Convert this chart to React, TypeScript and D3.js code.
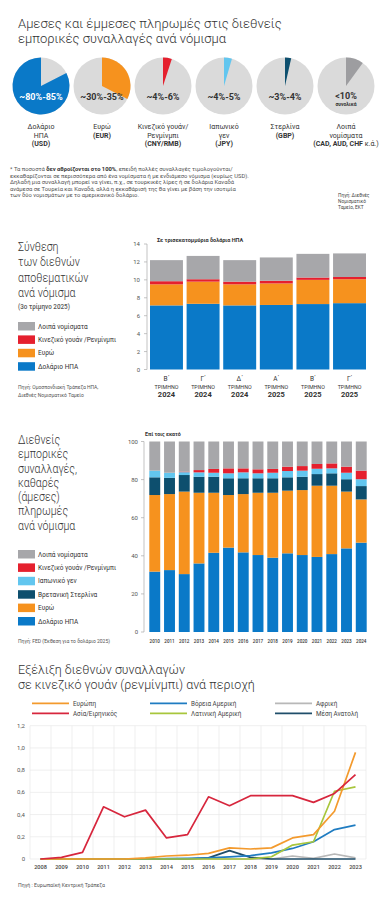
import React from 'react';
import * as d3 from 'd3';

// ---------- Section 1: pies ----------
const pieCodes = ['USD', 'EUR', 'CNY', 'JPY', 'GBP', 'OTHER'];
const pieShares = [82.5, 32.5, 5, 4.5, 3.5, 10];
const pieLabels = ['~80%-85%', '~30%-35%', '~4%-6%', '~4%-5%', '~3%-4%', '<10%'];
const pieCaptionA = [['Δολάριο', 'ΗΠΑ'], ['Ευρώ'], ['Κινεζικό γουάν/', 'Ρενμίνμπι'], ['Ιαπωνικό', 'γεν'], ['Στερλίνα'], ['Λοιπά', 'νομίσματα']];
const pieCaptionB = ['(USD)', '(EUR)', '(CNY/RMB)', '(JPY)', '(GBP)', '(CAD, AUD, CHF '];
const pieCaptionC = ['', '', '', '', '', 'κ.ά.)'];
const pieColors = ['#0a79c8', '#f6921e', '#e5202e', '#62c6ef', '#0d4f6e', '#9d9da0'];
const pieReverse = [true, false, false, false, false, false];

// ---------- Section 2: reserves ----------
const quarters = ['Β΄', 'Γ΄', 'Δ΄', 'Α΄', 'Β΄', 'Γ΄'];
const quarterYears = ['2024', '2024', '2024', '2025', '2025', '2025'];
const resUSD = [7.15, 7.33, 7.15, 7.2, 7.3, 7.4];
const resEUR = [2.35, 2.47, 2.35, 2.4, 2.7, 2.67];
const resCNY = [0.35, 0.27, 0.3, 0.3, 0.26, 0.25];
const resOther = [2.35, 2.6, 2.4, 2.6, 2.64, 2.63];
const resTicks = [0, 2, 4, 6, 8, 10, 12, 14];

// ---------- Section 3: trade payments ----------
const tradeYears = ['2010', '2011', '2012', '2013', '2014', '2015', '2016', '2017', '2018', '2019', '2020', '2021', '2022', '2023', '2024'];
const trUSD = [31.7, 32.5, 30.4, 36.0, 41.6, 44.3, 41.8, 40.4, 39.0, 41.3, 40.4, 39.4, 40.9, 43.9, 46.9];
const trEUR = [40.2, 39.9, 43.3, 37.1, 31.5, 27.6, 30.6, 32.7, 34.1, 32.9, 34.1, 37.4, 35.9, 29.8, 22.7];
const trGBP = [9.3, 8.5, 8.7, 8.4, 8.4, 8.8, 8.3, 7.6, 7.6, 7.0, 7.0, 6.1, 6.5, 6.5, 7.0];
const trJPY = [3.5, 2.7, 1.5, 2.3, 2.1, 2.6, 3.1, 2.6, 2.9, 3.3, 3.2, 2.8, 2.6, 3.4, 3.6];
const trCNY = [0, 0, 0.3, 1.2, 2.0, 2.6, 2.1, 2.1, 2.0, 2.3, 2.4, 2.5, 2.6, 3.2, 4.5];
const trOther = [15.3, 16.4, 15.8, 15.0, 14.4, 14.1, 14.1, 14.6, 14.4, 13.2, 12.9, 11.8, 11.5, 13.2, 15.3];
const trTicks = [0, 20, 40, 60, 80, 100];

// ---------- Section 4: RMB by region ----------
const rmbYears = ['2008', '2009', '2010', '2011', '2012', '2013', '2014', '2015', '2016', '2017', '2018', '2019', '2020', '2021', '2022', '2023'];
const rmbEurope = [0, 0, 0, 0, 0, 0.01, 0.027, 0.034, 0.05, 0.10, 0.09, 0.10, 0.19, 0.22, 0.43, 0.96];
const rmbAsia = [0, 0.015, 0.06, 0.47, 0.38, 0.44, 0.19, 0.22, 0.56, 0.48, 0.57, 0.57, 0.57, 0.51, 0.59, 0.76];
const rmbNAmerica = [0, 0, 0, 0, 0, 0, 0.003, 0.005, 0.01, 0.02, 0.03, 0.055, 0.095, 0.155, 0.265, 0.305];
const rmbLatAm = [0, 0, 0, 0, 0, 0, 0, 0, 0, 0, 0, 0.02, 0.125, 0.155, 0.61, 0.65];
const rmbAfrica = [0, 0, 0, 0, 0, 0, 0, 0, 0, 0, 0, 0, 0.027, 0.005, 0.045, 0.01];
const rmbMidEast = [0, 0, 0, 0, 0, 0, 0, 0, 0.01, 0.075, 0.015, 0, 0, 0, 0, 0];
const rmbTicks = [0, 0.2, 0.4, 0.6, 0.8, 1.0, 1.2];

const C = {
  blue: '#0a79c8', orange: '#f6921e', red: '#e5202e', gray: '#a7a7aa',
  lblue: '#62c6ef', navy: '#0d4f6e', pieBg: '#dadada',
};

const FONT = 'Roboto, "Open Sans", "DejaVu Sans", sans-serif';

function NarrowTitle({ lines, y0, step, size, sx }: { lines: string[]; y0: number; step: number; size: number; sx: number }) {
  return (
    <g transform={`translate(18,0) scale(${sx},1)`}>
      {lines.map((t, i) => (
        <text key={i} x={0} y={y0 + i * step} fontSize={size} fontWeight={300} fill="#333">{t}</text>
      ))}
    </g>
  );
}

export default function App() {
  const pieX = d3.scalePoint<string>().domain(pieCodes).range([41, 346]);
  const arc = d3.arc<any>().innerRadius(0).outerRadius(28.5);

  const resRows = quarters.map((q, i) => ({ key: i, usd: resUSD[i], eur: resEUR[i], cny: resCNY[i], other: resOther[i] }));
  const resKeys = ['usd', 'eur', 'cny', 'other'];
  const resColors: Record<string, string> = { usd: C.blue, eur: C.orange, cny: C.red, other: C.gray };
  const resStack = d3.stack<any>().keys(resKeys)(resRows);
  const x2 = d3.scaleBand<number>().domain(quarters.map((_, i) => i)).range([150, 366]).paddingInner(0.1).paddingOuter(0);
  const y2 = d3.scaleLinear().domain([0, 14]).range([369.5, 244]);

  const trRows = tradeYears.map((yr, i) => ({ key: yr, usd: trUSD[i], eur: trEUR[i], gbp: trGBP[i], jpy: trJPY[i], cny: trCNY[i], other: trOther[i] }));
  const trKeys = ['usd', 'eur', 'gbp', 'jpy', 'cny', 'other'];
  const trColors: Record<string, string> = { usd: C.blue, eur: C.orange, gbp: C.navy, jpy: C.lblue, cny: C.red, other: C.gray };
  const trStack = d3.stack<any>().keys(trKeys)(trRows);
  const x3 = d3.scaleBand<string>().domain(tradeYears).range([149.3, 366.7]).paddingInner(0.26).paddingOuter(0);
  const y3 = d3.scaleLinear().domain([0, 100]).range([632, 441.5]);

  const x4 = d3.scaleBand<string>().domain(rmbYears).range([30, 366]).padding(0);
  const y4 = d3.scaleLinear().domain([0, 1.2]).range([859, 725.7]);
  const line4 = d3.line<number>().x((_, i) => (x4(rmbYears[i]) as number) + x4.bandwidth() / 2).y((d) => y4(d));
  const series4 = [
    { name: 'Αφρική', data: rmbAfrica, color: '#b8b8b8' },
    { name: 'Μέση Ανατολή', data: rmbMidEast, color: '#1f4e6a' },
    { name: 'Βόρεια Αμερική', data: rmbNAmerica, color: '#1f7cc1' },
    { name: 'Λατινική Αμερική', data: rmbLatAm, color: '#a8c63c' },
    { name: 'Ευρώπη', data: rmbEurope, color: '#f39a2d' },
    { name: 'Ασία/Ειρηνικός', data: rmbAsia, color: '#d7263d' },
  ];
  const legend4 = [
    ['Ευρώπη', 'Βόρεια Αμερική', 'Αφρική'],
    ['Ασία/Ειρηνικός', 'Λατινική Αμερική', 'Μέση Ανατολή'],
  ];
  const colorOf = (n: string) => series4.find((s) => s.name === n)!.color;
  const legendColX = [32, 150, 275];

  return (
    <svg width={382} height={900} style={{ position: 'absolute', left: 0, top: 0 }} fontFamily={FONT}>
      <rect width={382} height={900} fill="#fff" />

      {/* ---------- Title 1 ---------- */}
      <text x={18} y={28} fontSize={13} fontWeight={300} fill="#333">Αμεσες και έμμεσες πληρωμές στις διεθνείς</text>
      <text x={18} y={43} fontSize={13} fontWeight={300} fill="#333">εμπορικές συναλλαγές ανά νόμισμα</text>

      {pieCodes.map((code, i) => {
        const cx = pieX(code) as number;
        const a = (pieShares[i] / 100) * 2 * Math.PI;
        const d = pieReverse[i]
          ? arc({ startAngle: 2 * Math.PI - a, endAngle: 2 * Math.PI })
          : arc({ startAngle: 0, endAngle: a });
        return (
          <g key={code} transform={`translate(${cx},86)`}>
            <circle r={28.5} fill={C.pieBg} />
            <path d={d as string} fill={pieColors[i]} />
            <text y={i === 5 ? 13 : 14} textAnchor="middle" fontSize={9} fontWeight={700} fill={i === 0 ? '#fff' : '#333'}>{pieLabels[i]}</text>
            {i === 5 && <text y={20} textAnchor="middle" fontSize={5} fontWeight={700} fill="#333">συνολικά</text>}
            {pieCaptionA[i].map((t, j) => (
              <text key={j} y={43 + j * 8.5} textAnchor="middle" fontSize={7} fill="#333">{t}</text>
            ))}
            <text y={43 + pieCaptionA[i].length * 8.5} textAnchor="middle" fontSize={7} fill="#333">
              <tspan fontWeight={700}>{pieCaptionB[i]}</tspan>
              {pieCaptionC[i] && <tspan>{pieCaptionC[i]}</tspan>}
            </text>
          </g>
        );
      })}

      <g fontSize={5.8} fill="#555">
        <text x={10} y={171}>* Τα ποσοστά <tspan fontWeight={700} fill="#333">δεν αθροίζονται στο 100%</tspan>, επειδή πολλές συναλλαγές τιμολογούνται/</text>
        <text x={10} y={177.5}>εκκαθαρίζονται σε περισσότερα από ένα νομίσματα ή με ενδιάμεσο νόμισμα (κυρίως USD).</text>
        <text x={10} y={184}>Δηλαδή μια συναλλαγή μπορεί να γίνει, π.χ., σε τουρκικές λίρες ή σε δολάρια Καναδά</text>
        <text x={10} y={190.5}>ανάμεσα σε Τουρκία και Καναδά, αλλά η εκκαθάρισή της θα γίνει με βάση την ισοτιμία</text>
        <text x={10} y={197}>των δύο νομισμάτων με το αμερικανικό δολάριο.</text>
      </g>
      <g fontSize={4.8} fill="#444">
        <text x={338} y={197}>Πηγή: Διεθνές</text>
        <text x={338} y={203}>Νομισματικό</text>
        <text x={338} y={209}>Ταμείο, ΕΚΤ</text>
      </g>

      {/* ---------- Section 2 ---------- */}
      <NarrowTitle lines={['Σύνθεση', 'των διεθνών', 'αποθεματικών', 'ανά νόμισμα']} y0={251} step={15.5} size={13} sx={0.82} />
      <text x={18} y={309} fontSize={6.3} fontWeight={500} fill="#555">(3ο τρίμηνο 2025)</text>
      {[
        ['Λοιπά νομίσματα', C.gray],
        ['Κινεζικό γουάν /Ρενμίνμπι', C.red],
        ['Ευρώ', C.orange],
        ['Δολάριο ΗΠΑ', C.blue],
      ].map(([t, c], i) => (
        <g key={i} transform={`translate(18,${322 + i * 13.4})`}>
          <rect width={17} height={8.5} fill={c} />
          <text x={20} y={6.6} fontSize={6.5} fill="#333">{t}</text>
        </g>
      ))}
      <text x={18} y={389} fontSize={5} fill="#555">Πηγή: Ομοσπονδιακή Τράπεζα ΗΠΑ,</text>
      <text x={18} y={397} fontSize={5} fill="#555">Διεθνές Νομισματικό Ταμείο</text>

      <text x={157} y={242} fontSize={5.5} fontWeight={700} fill="#333">Σε τρισεκατομμύρια δολάρια ΗΠΑ</text>
      <line x1={147} x2={147} y1={y2(0)} y2={y2(14)} stroke="#aaa" strokeWidth={0.7} />
      {resTicks.map((t) => (
        <g key={t}>
          <line x1={144} x2={147} y1={y2(t)} y2={y2(t)} stroke="#aaa" strokeWidth={0.7} />
          <text x={140} y={y2(t) + 2} textAnchor="end" fontSize={6} fill="#555">{t}</text>
        </g>
      ))}
      {resStack.map((s) => (
        <g key={s.key} fill={resColors[s.key]}>
          {s.map((d, i) => (
            <rect key={i} x={x2(i)} width={x2.bandwidth()} y={y2(d[1])} height={y2(d[0]) - y2(d[1])} />
          ))}
        </g>
      ))}
      {quarters.map((q, i) => {
        const cx = (x2(i) as number) + x2.bandwidth() / 2;
        return (
          <g key={i} textAnchor="middle" fill="#333">
            <text x={cx} y={381} fontSize={6.5}>{q}</text>
            <text x={cx} y={388.5} fontSize={5.3}>ΤΡΙΜΗΝΟ</text>
            <text x={cx} y={397} fontSize={7.5} fontWeight={700}>{quarterYears[i]}</text>
          </g>
        );
      })}

      {/* ---------- Section 3 ---------- */}
      <NarrowTitle lines={['Διεθνείς', 'εμπορικές', 'συναλλαγές,', 'καθαρές', '(άμεσες)', 'πληρωμές', 'ανά νόμισμα']} y0={444} step={14.3} size={12.2} sx={0.87} />
      {[
        ['Λοιπά νομίσματα', C.gray],
        ['Κινεζικό γουάν /Ρενμίνμπι', C.red],
        ['Ιαπωνικό γεν', C.lblue],
        ['Βρετανική Στερλίνα', C.navy],
        ['Ευρώ', C.orange],
        ['Δολάριο ΗΠΑ', C.blue],
      ].map(([t, c], i) => (
        <g key={i} transform={`translate(18,${550 + i * 13.4})`}>
          <rect width={17} height={8.5} fill={c} />
          <text x={20} y={6.6} fontSize={6.5} fill="#333">{t}</text>
        </g>
      ))}
      <text x={18} y={643} fontSize={5} fill="#555">Πηγή: FED (Έκθεση για το δολάριο 2025)</text>

      <text x={145} y={436} fontSize={5.3} fontWeight={700} fill="#333">Επί τοις εκατό</text>
      <line x1={144} x2={144} y1={y3(0)} y2={y3(100)} stroke="#aaa" strokeWidth={0.7} />
      {trTicks.map((t) => (
        <g key={t}>
          <line x1={141} x2={144} y1={y3(t)} y2={y3(t)} stroke="#aaa" strokeWidth={0.7} />
          <text x={138} y={y3(t) + 2} textAnchor="end" fontSize={6} fill="#555">{t}</text>
        </g>
      ))}
      {trStack.map((s) => (
        <g key={s.key} fill={trColors[s.key]}>
          {s.map((d, i) => (
            <rect key={i} x={x3(tradeYears[i])} width={x3.bandwidth()} y={y3(d[1])} height={Math.max(0, y3(d[0]) - y3(d[1]))} />
          ))}
        </g>
      ))}
      {tradeYears.map((yr) => (
        <text key={yr} x={(x3(yr) as number) + x3.bandwidth() / 2} y={643} textAnchor="middle" fontSize={4.6} fontWeight={500} fill="#333">{yr}</text>
      ))}

      {/* ---------- Section 4 ---------- */}
      <text x={18} y={674} fontSize={12.5} fontWeight={300} fill="#333">Εξέλιξη διεθνών συναλλαγών</text>
      <text x={18} y={689} fontSize={12.5} fontWeight={300} fill="#333">σε κινεζικό γουάν (ρενμίνμπι) ανά περιοχή</text>
      {legend4.map((row, r) =>
        row.map((n, c) => (
          <g key={n} transform={`translate(${legendColX[c]},${703.3 + r * 10})`}>
            <line x1={0} x2={37} y1={0} y2={0} stroke={colorOf(n)} strokeWidth={1.8} />
            <text x={41} y={2.2} fontSize={6.3} fill="#444">{n}</text>
          </g>
        ))
      )}
      {rmbYears.map((yr) => (
        <line key={yr} x1={x4(yr)} x2={x4(yr)} y1={y4(0)} y2={y4(1.2)} stroke="#e8e8e8" strokeWidth={0.7} />
      ))}
      <line x1={366} x2={366} y1={y4(0)} y2={y4(1.2)} stroke="#e8e8e8" strokeWidth={0.7} />
      {rmbTicks.map((t) => (
        <g key={t}>
          <line x1={30} x2={366} y1={y4(t)} y2={y4(t)} stroke="#e8e8e8" strokeWidth={0.7} />
          <text x={25} y={y4(t) + 2} textAnchor="end" fontSize={6} fill="#555">{t === 0 ? '0' : d3.format('.1f')(t).replace('.', ',')}</text>
        </g>
      ))}
      {series4.map((s) => (
        <path key={s.name} d={line4(s.data) as string} fill="none" stroke={s.color} strokeWidth={1.7} strokeLinejoin="round" />
      ))}
      {rmbYears.map((yr) => (
        <text key={yr} x={(x4(yr) as number) + x4.bandwidth() / 2} y={869} textAnchor="middle" fontSize={5.6} fontWeight={500} fill="#444">{yr}</text>
      ))}
      <text x={18} y={887} fontSize={5.2} fill="#555">Πηγή : Ευρωπαϊκή Κεντρική Τράπεζα</text>
    </svg>
  );
}
